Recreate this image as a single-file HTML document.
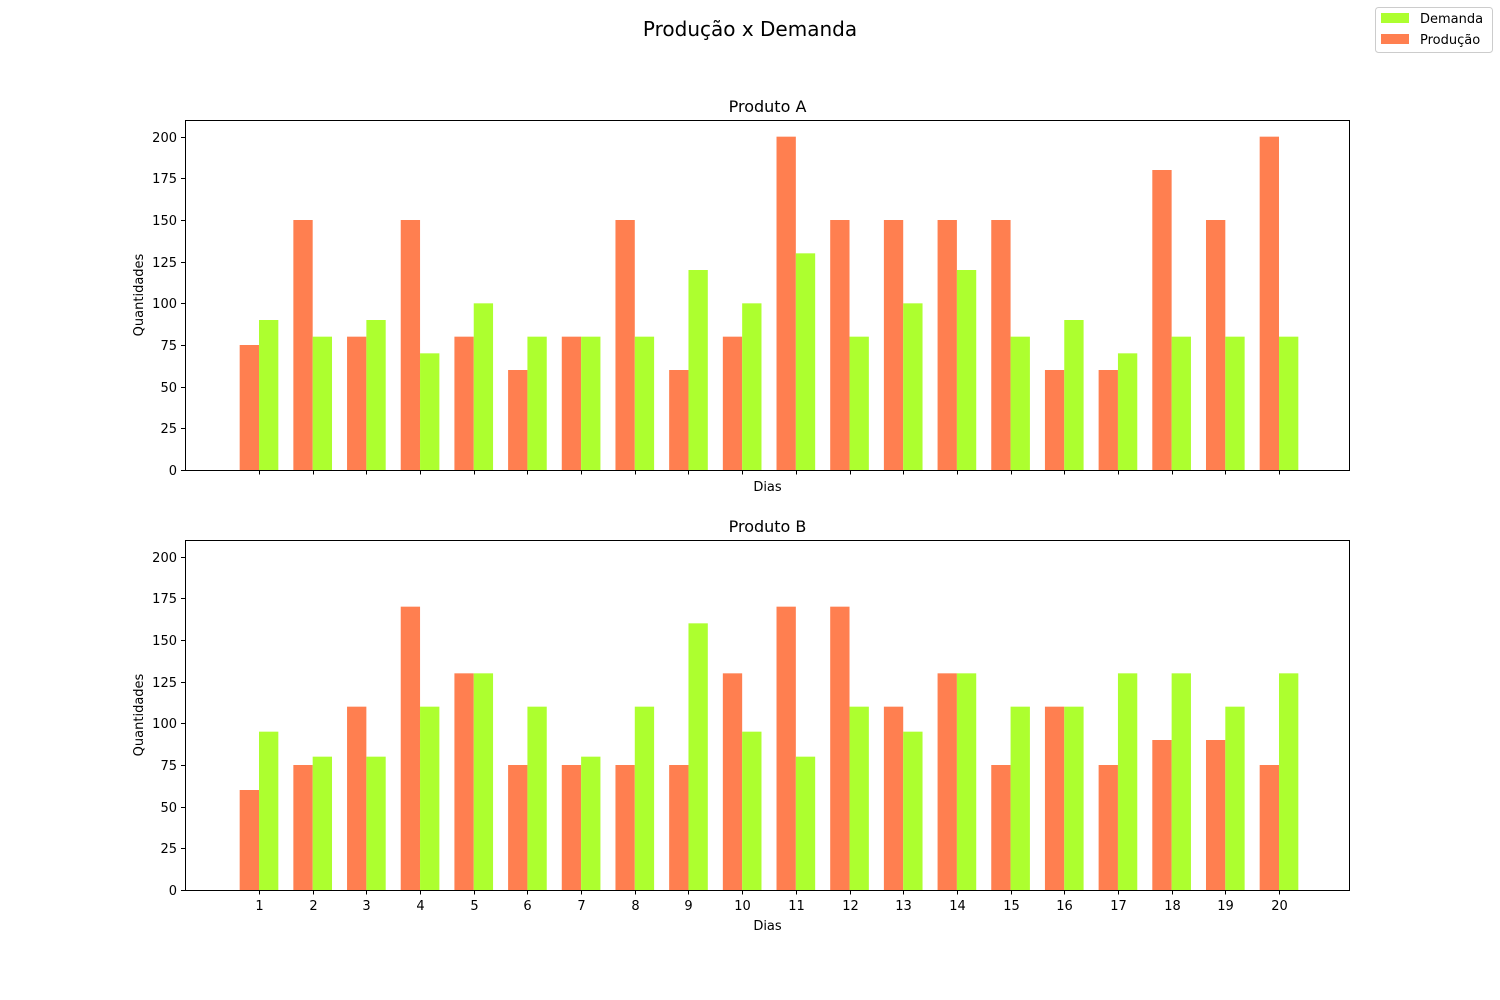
<!DOCTYPE html>
<html><head><meta charset="utf-8">
<style>
html,body{margin:0;padding:0;background:#fff;}
svg{display:block;font-family:"DejaVu Sans","Liberation Sans",sans-serif;}
</style></head>
<body>
<svg id="fig" width="1500" height="1000" viewBox="0 0 1500 1000">
<rect width="1500" height="1000" fill="#fff"/>
<text x="750" y="36" text-anchor="middle" font-size="20">Produção x Demanda</text>
<g>
<rect x="1375.5" y="7.5" width="117" height="45" rx="3" fill="#fff" stroke="#ccc"/>
<rect x="1381" y="13" width="28" height="10" fill="#adff2f"/>
<text x="1420" y="23" font-size="13">Demanda</text>
<rect x="1381" y="34" width="28" height="10" fill="#ff7f50"/>
<text x="1420" y="44" font-size="13">Produção</text>
</g>
</svg>
<script>
const days=[1,2,3,4,5,6,7,8,9,10,11,12,13,14,15,16,17,18,19,20];
const yTicks=[0,25,50,75,100,125,150,175,200];
const prodA=[75,150,80,150,80,60,80,150,60,80,200,150,150,150,150,60,60,180,150,200];
const demA=[90,80,90,70,100,80,80,80,120,100,130,80,100,120,80,90,70,80,80,80];
const prodB=[60,75,110,170,130,75,75,75,75,130,170,170,110,130,75,110,75,90,90,75];
const demB=[95,80,80,110,130,110,80,110,160,95,80,110,95,130,110,110,130,130,110,130];
const panels=[{title:"Produto A",top:120,prod:prodA,dem:demA,labels:false,key:"a"},
{title:"Produto B",top:540,prod:prodB,dem:demB,labels:true,key:"b"}];
const NS="http://www.w3.org/2000/svg";
const svg=document.getElementById('fig');
const L=185,R=1350,H=350;
const xS=d=>259+(d-1)*(1279-259)/19;
const bw=0.36*(1279-259)/19;
function mk(t,a,p){const e=document.createElementNS(NS,t);for(const k in a)e.setAttribute(k,a[k]);(p||svg).appendChild(e);return e;}
panels.forEach(P=>{
  const bot=P.top+H;
  const yS=v=>bot-v*(H/210);
  const g=mk('g',{});
  
  
  days.forEach((d,i)=>{
    const r1=mk('rect',{x:xS(d)-bw,y:yS(P.prod[i]),width:bw,height:bot-yS(P.prod[i]),fill:'#ff7f50'},g);
    
    
    const r2=mk('rect',{x:xS(d),y:yS(P.dem[i]),width:bw,height:bot-yS(P.dem[i]),fill:'#adff2f'},g);
    
    
  });
  const fr=mk('rect',{x:L+0.5,y:P.top+0.5,width:R-L-1,height:H,fill:'none',stroke:'#000','stroke-width':1},g);
  
  
  yTicks.forEach(v=>{
    const y=Math.round(yS(v))+0.5;
    mk('line',{x1:L-4,x2:L,y1:y,y2:y,stroke:'#000'},g);
    const t=mk('text',{x:L-8,y:y+4.5,'text-anchor':'end','font-size':13},g);
    t.textContent=v;
    
    
  });
  days.forEach(d=>{
    const x=Math.round(xS(d))+0.5;
    mk('line',{x1:x,x2:x,y1:bot+0.5,y2:bot+4.5,stroke:'#000'},g);
    if(P.labels){
      const t=mk('text',{x:x,y:bot+20,'text-anchor':'middle','font-size':13},g);
      t.textContent=d;
      
      
    }
  });
  const tt=mk('text',{x:(L+R)/2,y:P.top-8,'text-anchor':'middle','font-size':16},g);
  tt.textContent=P.title;
  
  
  const xl=mk('text',{x:(L+R)/2,y:P.labels?bot+40:bot+21,'text-anchor':'middle','font-size':13},g);
  xl.textContent='Dias';
  
  
  const yl=mk('text',{x:0,y:0,'text-anchor':'middle','font-size':13,transform:`translate(143,${P.top+H/2}) rotate(-90)`},g);
  yl.textContent='Quantidades';
  
  
});
</script>
</body></html>
